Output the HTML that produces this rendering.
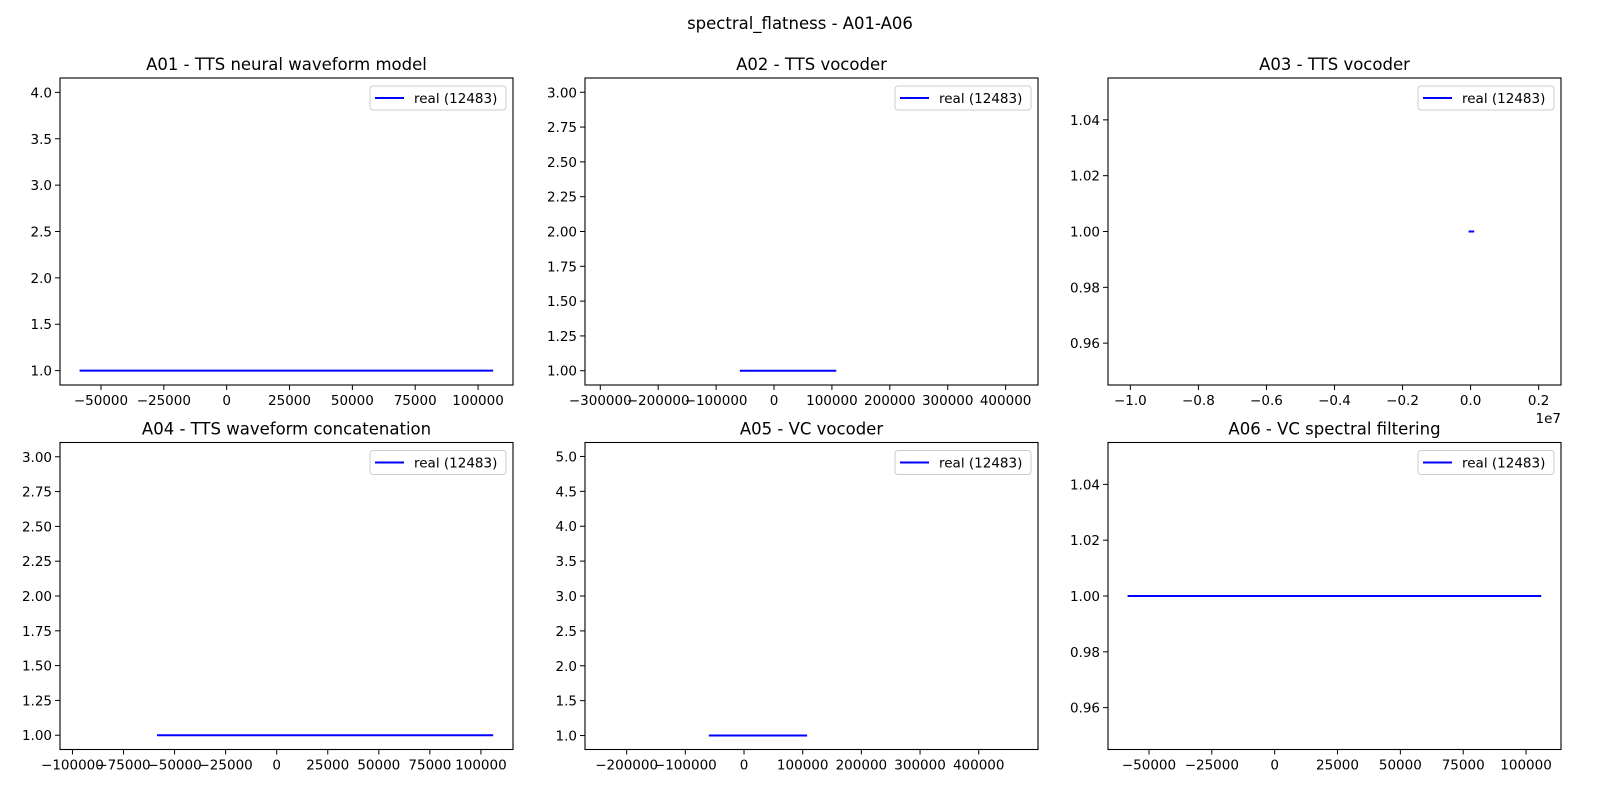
<!DOCTYPE html>
<html><head><meta charset="utf-8">
<style>
html,body{margin:0;padding:0;background:#fff;}
svg{display:block;font-family:"DejaVu Sans","Liberation Sans",sans-serif;}
</style></head>
<body>
<svg id="fig" width="1600" height="800" viewBox="0 0 1600 800" xmlns="http://www.w3.org/2000/svg">
<rect width="1600" height="800" fill="#fff"/>
<text x="800" y="29" text-anchor="middle" font-size="16.5" fill="#000">spectral_flatness - A01-A06</text>
</svg>
<script>
const panelTitles = ["A01 - TTS neural waveform model","A02 - TTS vocoder","A03 - TTS vocoder","A04 - TTS waveform concatenation","A05 - VC vocoder","A06 - VC spectral filtering"];
const seriesXStart = [-58500,-59000,-58500,-58600,-60000,-58500];
const seriesXEnd = [106000,107500,106000,106000,107500,106000];
const seriesY = [1,1,1,1,1,1];
const legendLabels = ["real (12483)","real (12483)","real (12483)","real (12483)","real (12483)","real (12483)"];
const xMin = [-66300,-326400,-1.0657e7,-106100,-271000,-66300];
const xMax = [113900,455900,0.2657e7,115700,501000,113900];
const yMin = [0.845,0.8975,0.945,0.8975,0.8,0.945];
const yMax = [4.155,3.1025,1.055,3.1025,5.2,1.055];
const xTicks = [
 [-50000,-25000,0,25000,50000,75000,100000],
 [-300000,-200000,-100000,0,100000,200000,300000,400000],
 [-1.0e7,-0.8e7,-0.6e7,-0.4e7,-0.2e7,0,0.2e7],
 [-100000,-75000,-50000,-25000,0,25000,50000,75000,100000],
 [-200000,-100000,0,100000,200000,300000,400000],
 [-50000,-25000,0,25000,50000,75000,100000]];
const yTicks = [
 [1.0,1.5,2.0,2.5,3.0,3.5,4.0],
 [1.0,1.25,1.5,1.75,2.0,2.25,2.5,2.75,3.0],
 [0.96,0.98,1.0,1.02,1.04],
 [1.0,1.25,1.5,1.75,2.0,2.25,2.5,2.75,3.0],
 [1.0,1.5,2.0,2.5,3.0,3.5,4.0,4.5,5.0],
 [0.96,0.98,1.0,1.02,1.04]];
const yDecimals = [1,2,2,2,1,2];
const xScaleExp = [0,0,7,0,0,0];

const NS="http://www.w3.org/2000/svg";
const svg=document.getElementById('fig');
const colL=[60,585,1108], W=453, rowT=[78,442.5], H=307;
function mk(tag,attrs,parent){const e=document.createElementNS(NS,tag);for(const k in attrs)e.setAttribute(k,attrs[k]);parent.appendChild(e);return e;}
function fmtX(v,i){
  if(xScaleExp[i]){const s=(v/Math.pow(10,xScaleExp[i])).toFixed(1);return s.replace('-','\u2212');}
  return String(Math.round(v)).replace('-','\u2212');
}
for(let i=0;i<6;i++){
  const L=colL[i%3], T=rowT[Math.floor(i/3)];
  const sx=v=>L+(v-xMin[i])/(xMax[i]-xMin[i])*W;
  const sy=v=>T+H-(v-yMin[i])/(yMax[i]-yMin[i])*H;
  const g=mk('g',{},svg);
  
  
  const t=mk('text',{x:L+W/2,y:T-8,'text-anchor':'middle','font-size':'16.5',fill:'#000'},g);
  t.textContent=panelTitles[i];
  
  
  // series line
  const ln=mk('line',{x1:sx(seriesXStart[i]),x2:sx(seriesXEnd[i]),y1:sy(seriesY[i]),y2:sy(seriesY[i]),stroke:'#0000ff','stroke-width':'2'},g);
  
  
  // frame
  const fr=mk('rect',{x:L,y:T,width:W,height:H,fill:'none',stroke:'#000','stroke-width':'1.1'},g);
  
  
  // x ticks
  xTicks[i].forEach(v=>{
    const x=sx(v);
    const tk=mk('line',{x1:x,x2:x,y1:T+H,y2:T+H+5,stroke:'#000','stroke-width':'1'},g);
    
    
    const tl=mk('text',{x:x,y:T+H+20,'text-anchor':'middle','font-size':'13.5',fill:'#000'},g);
    tl.textContent=fmtX(v,i);
    
    
  });
  if(xScaleExp[i]){
    const ex=mk('text',{x:L+W,y:T+H+38,'text-anchor':'end','font-size':'13.5',fill:'#000'},g);
    ex.textContent='1e'+xScaleExp[i];
    
    
  }
  // y ticks
  yTicks[i].forEach(v=>{
    const y=sy(v);
    const tk=mk('line',{x1:L-5,x2:L,y1:y,y2:y,stroke:'#000','stroke-width':'1'},g);
    
    
    const tl=mk('text',{x:L-8,y:y+5,'text-anchor':'end','font-size':'13.5',fill:'#000'},g);
    tl.textContent=v.toFixed(yDecimals[i]);
    
    
  });
  // legend
  const lg=mk('g',{},g);
  
  
  const bx=L+W-143, by=T+8;
  mk('rect',{x:bx,y:by,width:136,height:24,rx:3,fill:'#fff','fill-opacity':'0.8',stroke:'#ccc','stroke-width':'1'},lg);
  const ll=mk('line',{x1:bx+5,x2:bx+34,y1:by+12,y2:by+12,stroke:'#0000ff','stroke-width':'2'},lg);
  
  
  const lt=mk('text',{x:bx+44,y:by+17,'font-size':'13.5',fill:'#000'},lg);
  lt.textContent=legendLabels[i];
  
  
}
</script>
</body></html>
